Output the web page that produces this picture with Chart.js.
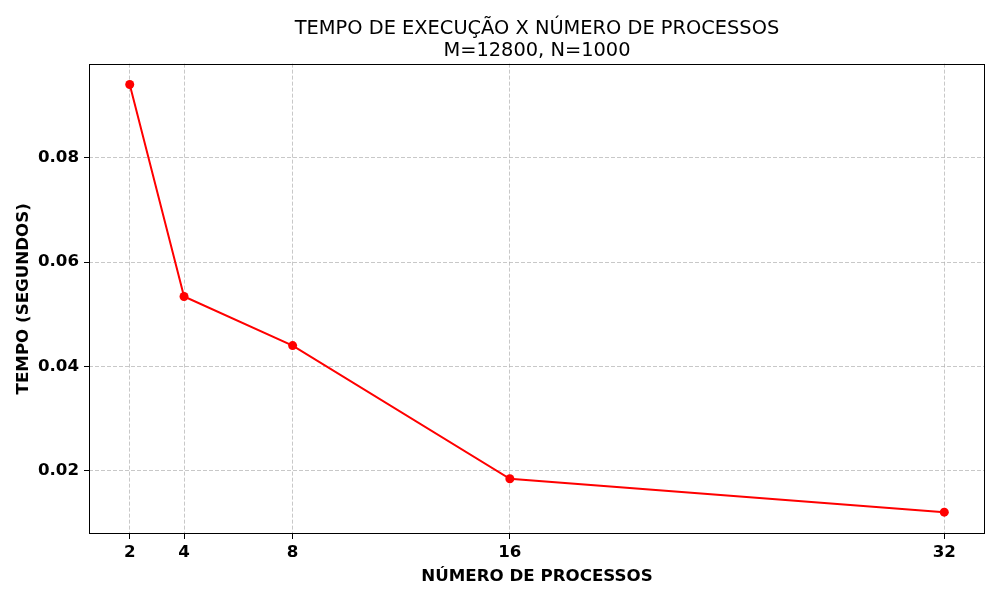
<!DOCTYPE html>
<html>
<head>
<meta charset="utf-8">
<script src="https://cdn.jsdelivr.net/npm/chart.js@4"></script>
<style>
html,body{margin:0;padding:0;background:#fff;}
#wrap{width:1000px;height:600px;}
</style>
</head>
<body>
<div id="wrap"><canvas id="c" width="1000" height="600"></canvas></div>
<script>
const processos = [2, 4, 8, 16, 32];
const tempos = [0.0940, 0.0534, 0.0440, 0.0185, 0.0121];
const xTicks = [2, 4, 8, 16, 32];
const yTicks = [0.02, 0.04, 0.06, 0.08];
const titleLines = ['TEMPO DE EXECUÇÃO X NÚMERO DE PROCESSOS', 'M=12800, N=1000'];
const xLabel = 'NÚMERO DE PROCESSOS';
const yLabel = 'TEMPO (SEGUNDOS)';

const FONT = "'DejaVu Sans', sans-serif";

const framePlugin = {
  id: 'frame',
  afterDraw(chart) {
    const a = chart.chartArea, ctx = chart.ctx;
    ctx.save();
    ctx.strokeStyle = '#000';
    ctx.lineWidth = 1;
    ctx.strokeRect(Math.round(a.left) + 0.5, Math.round(a.top) + 0.5,
      Math.round(a.right - a.left) - 1, Math.round(a.bottom - a.top) - 1);
    ctx.restore();
  }
};

const gridCommon = {
  color: 'rgba(176,176,176,0.7)',
  lineWidth: 1,
  tickColor: '#000',
  tickLength: 5,
  tickWidth: 1,
  tickBorderDash: []
};

new Chart(document.getElementById('c'), {
  type: 'line',
  data: {
    datasets: [{
      data: processos.map((x, i) => ({x: x, y: tempos[i]})),
      borderColor: '#ff0000',
      backgroundColor: '#ff0000',
      borderWidth: 2,
      pointRadius: 4.5,
      pointHoverRadius: 4.5,
      pointBorderWidth: 0,
      tension: 0,
      fill: false
    }]
  },
  options: {
    responsive: false,
    animation: false,
    devicePixelRatio: 1,
    layout: {padding: {left: 0, right: 15, top: 0, bottom: 0}},
    plugins: {
      legend: {display: false},
      tooltip: {enabled: false},
      title: {
        display: true,
        fullSize: false,
        text: titleLines,
        color: '#000',
        font: {family: FONT, size: 19.4, weight: 'normal', lineHeight: 1.15},
        padding: {top: 18, bottom: 1}
      }
    },
    scales: {
      x: {
        type: 'linear',
        min: 0.5,
        max: 33.5,
        afterBuildTicks: (s) => { s.ticks = xTicks.map(v => ({value: v})); },
        afterFit: (s) => { s.height = 66; },
        grid: Object.assign({}, gridCommon),
        border: {display: false, dash: [4, 2]},
        ticks: {
          color: '#000',
          padding: 4,
          maxRotation: 0,
          autoSkip: false,
          font: {family: FONT, size: 16.67, weight: 'bold'},
          callback: (v) => String(v)
        },
        title: {
          display: true,
          text: xLabel,
          color: '#000',
          font: {family: FONT, size: 16.67, weight: 'bold'},
          padding: {top: 2, bottom: 13}
        }
      },
      y: {
        type: 'linear',
        min: 0.00792,
        max: 0.0980,
        afterBuildTicks: (s) => { s.ticks = yTicks.map(v => ({value: v})); },
        afterFit: (s) => { s.width = 89; },
        grid: Object.assign({}, gridCommon),
        border: {display: false, dash: [4, 2]},
        ticks: {
          color: '#000',
          padding: 5,
          autoSkip: false,
          font: {family: FONT, size: 16.67, weight: 'bold'},
          callback: (v) => Number(v).toFixed(2)
        },
        title: {
          display: true,
          text: yLabel,
          color: '#000',
          font: {family: FONT, size: 16.67, weight: 'bold'},
          padding: {top: 14, bottom: 4}
        }
      }
    }
  },
  plugins: [framePlugin]
});
</script>
</body>
</html>
